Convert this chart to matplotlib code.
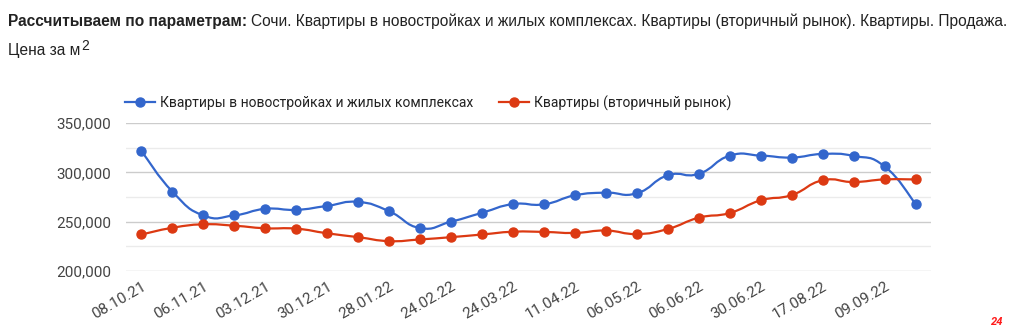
import numpy as np
import matplotlib
matplotlib.use("Agg")
import matplotlib.pyplot as plt
from matplotlib.path import Path
from matplotlib.patches import PathPatch
from matplotlib.lines import Line2D
from matplotlib.ticker import MultipleLocator, FuncFormatter

# data
dates = ["08.10.21", "", "06.11.21", "", "03.12.21", "", "30.12.21", "", "28.01.22", "",
         "24.02.22", "", "24.03.22", "", "11.04.22", "", "06.05.22", "", "06.06.22", "",
         "30.06.22", "", "17.08.22", "", "09.09.22", ""]
new_flats = [321500, 280400, 256300, 256400, 263000, 262000, 266000, 270000, 260500, 243500,
             250000, 259000, 267800, 267600, 276700, 279400, 278800, 297000, 298500, 316900,
             317000, 315000, 318600, 316600, 306000, 268200]
resale = [237000, 243800, 247300, 245900, 243300, 242900, 238200, 234300, 230300, 232000,
          234300, 237000, 239800, 239600, 238600, 241000, 237500, 242600, 254000, 258800,
          271600, 277000, 291900, 290200, 292800, 292800]

name_new = "Квартиры в новостройках и жилых комплексах"
name_resale = "Квартиры (вторичный рынок)"
blue = "#3366cc"
red = "#dc3912"

plt.rcParams['font.family'] = ['Roboto', 'DejaVu Sans']

fig = plt.figure(figsize=(10.24, 3.34), dpi=100)
ax = fig.add_axes([126 / 1024, 1 - 271 / 334, (931 - 126) / 1024, (271 - 123) / 334])


def smooth_path(xs, ys, k=0.5):
    # cubic bezier through the points (like google charts curveType function)
    xs = np.asarray(xs, float)
    ys = np.asarray(ys, float)
    n = len(xs)
    verts = [(xs[0], ys[0])]
    codes = [Path.MOVETO]
    for i in range(n - 1):
        a = i - 1 if i > 0 else i
        b = i + 2 if i + 2 < n else i + 1
        f = k / 2
        c1 = (xs[i] + (xs[i + 1] - xs[a]) * f, ys[i] + (ys[i + 1] - ys[a]) * f)
        c2 = (xs[i + 1] - (xs[b] - xs[i]) * f, ys[i + 1] - (ys[b] - ys[i]) * f)
        verts += [c1, c2, (xs[i + 1], ys[i + 1])]
        codes += [Path.CURVE4] * 3
    return Path(verts, codes)


x = np.arange(len(new_flats))
for vals, col in [(new_flats, blue), (resale, red)]:
    ax.add_patch(PathPatch(smooth_path(x, vals), fill=False, edgecolor=col, lw=1.6,
                           capstyle='round', joinstyle='round', zorder=3))
    ax.plot(x, vals, linestyle='none', marker='o', ms=6.5, color=col, zorder=4)

ax.set_xlim(-0.5, len(x) - 0.5)
ax.set_ylim(200000, 350000)
ax.yaxis.set_major_locator(MultipleLocator(50000))
ax.yaxis.set_minor_locator(MultipleLocator(25000))
ax.yaxis.set_major_formatter(FuncFormatter(lambda v, p: f"{int(v):,}"))
ax.grid(which='major', axis='y', color='#cccccc', lw=1)
ax.grid(which='minor', axis='y', color='#ebebeb', lw=1)
ax.set_axisbelow(True)
for s in ax.spines.values():
    s.set_visible(False)
ax.tick_params(axis='both', which='both', length=0, colors='#444444', labelsize=11)
ax.tick_params(axis='y', pad=10.5)
ax.set_xticks(x)
ax.set_xticklabels(dates, rotation=30, ha='right', rotation_mode='anchor')
ax.tick_params(axis='x', pad=6)

# legend
handles = [Line2D([], [], color=blue, lw=1.6, marker='o', ms=6.5),
           Line2D([], [], color=red, lw=1.6, marker='o', ms=6.5)]
fig.legend(handles, [name_new, name_resale], loc='center left',
           bbox_to_anchor=(125 / 1024, 1 - 103 / 334), ncol=2, frameon=False,
           fontsize=10, handlelength=2.15, handletextpad=0.4, columnspacing=1.8,
           borderpad=0, borderaxespad=0, labelcolor='#222222')

# title lines
tfam = ['Liberation Sans', 'DejaVu Sans']
fig.canvas.draw()
r = fig.canvas.get_renderer()
t1 = fig.text(8 / 1024, 1 - 26 / 334, "Рассчитываем по параметрам:", fontsize=11.2,
              fontweight='bold', color='#222222', va='baseline', family=tfam)
bb = t1.get_window_extent(renderer=r)
fig.text((bb.x1 + 4) / 1024, 1 - 26 / 334,
         "Сочи. Квартиры в новостройках и жилых комплексах. Квартиры (вторичный рынок). Квартиры. Продажа.",
         fontsize=11.2, color='#222222', va='baseline', family=tfam)
t3 = fig.text(8 / 1024, 1 - 55 / 334, "Цена за м", fontsize=11.2, color='#222222',
              va='baseline', family=tfam)
bb3 = t3.get_window_extent(renderer=r)
fig.text((bb3.x1 + 1) / 1024, 1 - 50 / 334, "2", fontsize=10, color='#222222',
         va='baseline', family=tfam)

fig.text(997 / 1024, 1 - 322 / 334, "24", fontsize=8, color='#ff1a1a', fontweight='bold',
         style='italic', va='center', ha='center')

fig.savefig("out.png", dpi=100)
